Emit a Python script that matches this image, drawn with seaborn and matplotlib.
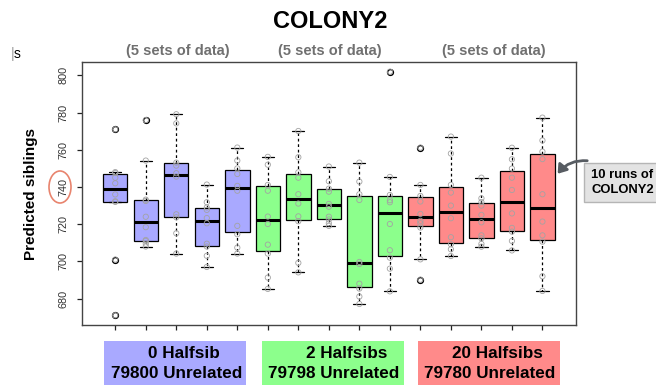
import numpy as np
import pandas as pd
import matplotlib
matplotlib.use("Agg")
import matplotlib.pyplot as plt
import seaborn as sns
from matplotlib.patches import Rectangle, Ellipse, FancyArrowPatch

# ---------------- data ----------------
halfsib0_sets = [
    [671, 701, 732, 732.3, 736, 742, 745, 747.5, 748, 771],
    [708, 709.5, 711, 711.5, 718.4, 724, 732.5, 733.2, 754.2, 776],
    [704.2, 715.1, 723.7, 725.3, 745.6, 747.4, 751.5, 753.1, 774.2, 779.1],
    [697, 703, 708, 709.5, 720.5, 723.3, 727.7, 729, 731.8, 741.3],
    [704.2, 707.4, 714.6, 719.1, 738, 740.6, 747, 750, 754.2, 761.2],
]
halfsib2_sets = [
    [685.2, 691.3, 704.2, 709, 720.1, 724.1, 738, 741.1, 752, 756.2],
    [694.1, 699.2, 721.6, 724.2, 731.1, 736.1, 745, 747.9, 756, 770.1],
    [719.1, 720.5, 722.5, 724, 729.4, 730.9, 737.5, 739.1, 743.1, 751],
    [677.1, 681.1, 685.4, 688, 698.6, 699.7, 733, 736.1, 742.9, 753.1],
    [683.9, 696.1, 702, 706, 720.1, 731.8, 732.9, 735.7, 745.4, 802],
]
halfsib20_sets = [
    [690.2, 701.1, 718.2, 720.5, 721.8, 725.5, 732.2, 735.2, 741.1, 761.2],
    [702.9, 706.5, 709.2, 713, 723.2, 730, 737, 741.1, 758, 767.1],
    [707.9, 709.4, 712.4, 714, 721, 725, 730, 731.9, 733.9, 745],
    [705.9, 711, 716, 718, 725.8, 738.4, 745, 749.9, 754.9, 761.1],
    [684.1, 692, 710.6, 714, 721.4, 736.1, 755, 759, 765, 777.3],
]
group_names = ["0 Halfsib", "2 Halfsibs", "20 Halfsibs"]
unrelated_names = ["79800 Unrelated", "79798 Unrelated", "79780 Unrelated"]
group_colors = ["#a9a9ff", "#8cff8c", "#ff8a8a"]
subtitle = "(5 sets of data)"
y_ticks = [680, 700, 720, 740, 760, 780, 800]
title = "COLONY2"
y_label = "Predicted siblings"
note_lines = ["10 runs of", "COLONY2"]

# ---------------- build table ----------------
rows = []
set_order = []
k = 0
for g, sets in zip(group_names, [halfsib0_sets, halfsib2_sets, halfsib20_sets]):
    for vals in sets:
        k += 1
        name = f"S{k}"
        set_order.append(name)
        for v in vals:
            rows.append({"set": name, "group": g, "value": v})
df = pd.DataFrame(rows)
palette = dict(zip(group_names, group_colors))

# ---------------- figure ----------------
sns.set_style("white")
plt.rcParams["font.family"] = ["Liberation Sans", "DejaVu Sans"]
plt.rcParams["text.color"] = "black"
plt.rcParams["axes.labelcolor"] = "black"

W, H = 656, 385
fig = plt.figure(figsize=(W / 100, H / 100), dpi=100)
ax_l, ax_r, ax_t, ax_b = 82, 576, 62, 325
ax = fig.add_axes([ax_l / W, 1 - ax_b / H, (ax_r - ax_l) / W, (ax_b - ax_t) / H])

sns.boxplot(
    data=df, x="set", y="value", hue="group", order=set_order,
    hue_order=group_names, palette=palette, dodge=False, width=0.8,
    saturation=1, linecolor="black", linewidth=0.9, whis=1.5,
    fliersize=4.2, legend=False, ax=ax,
    flierprops=dict(marker="o", markerfacecolor="none",
                    markeredgecolor="black", markeredgewidth=1.0),
    whiskerprops=dict(linestyle=(0, (2.2, 2.2))),
    medianprops=dict(linewidth=2.2, color="black"),
)
sns.stripplot(
    data=df, x="set", y="value", order=set_order, jitter=False, size=3.8,
    facecolors="none", edgecolor="#a3a3a3", linewidth=0.6, ax=ax, zorder=3,
)

ax.set_xlim(-1.09, 15.1)
ax.set_ylim(665.8, 807.2)
ax.set_yticks(y_ticks)
ax.set_yticklabels([str(t) for t in y_ticks], rotation=90, va="center",
                   fontsize=7.8, color="#333333")
ax.set_xticks(range(len(set_order)))
ax.set_xticklabels([""] * len(set_order))
ax.tick_params(axis="both", direction="out", length=3.6, width=0.9,
               color="#222222", left=True, bottom=True)
ax.tick_params(axis="y", pad=6)
ax.set_xlabel("")
ax.set_ylabel(y_label, fontsize=11, fontweight="bold", va="center", color="black")
ax.yaxis.set_label_coords((31 - ax_l) / (ax_r - ax_l), 0.5)
for sp in ax.spines.values():
    sp.set_visible(True)
    sp.set_color("#444444")
    sp.set_linewidth(1.0)

# ---------------- texts & decorations ----------------
def fx(px):
    return px / W

def fy(py):
    return 1 - py / H

fig.text(fx(330), fy(22), title, ha="center", va="center",
         fontsize=17, fontweight="bold", color="black")
for cx in [177.7, 330, 493.5]:
    fig.text(fx(cx), fy(50.5), subtitle, ha="center", va="center",
             fontsize=10.5, fontweight="bold", color="#707070")

fig.text(fx(11), fy(54), "|", ha="left", va="center", fontsize=10, color="#9a9a9a")
fig.text(fx(14), fy(54), "s", ha="left", va="center", fontsize=10, color="black")

fig.patches.append(Ellipse((fx(60), fy(187)), 22 / W, 32 / H, fill=False,
                           edgecolor="#e8846e", linewidth=1.2,
                           transform=fig.transFigure, figure=fig))

boxes_px = [(104, 245.7), (262, 404), (418, 560)]
line1_cx = [184, 346.7, 497.5]
line2_cx = [176.4, 333.5, 489.5]
for (x0, x1), col, l1, l2, c1, c2 in zip(boxes_px, group_colors, group_names,
                                          unrelated_names, line1_cx, line2_cx):
    fig.patches.append(Rectangle((fx(x0), 0), (x1 - x0) / W, 44 / H,
                                 facecolor=col, edgecolor="none",
                                 transform=fig.transFigure, figure=fig))
    fig.text(fx(c1), fy(354), l1, ha="center", va="center",
             fontsize=12.3, fontweight="bold", color="black")
    fig.text(fx(c2), fy(373.3), l2, ha="center", va="center",
             fontsize=12.3, fontweight="bold", color="black")

fig.patches.append(Rectangle((fx(584), fy(202)), 80 / W, 39 / H,
                             facecolor="#e3e3e3", edgecolor="#b5b5b5",
                             linewidth=1.0, transform=fig.transFigure, figure=fig))
fig.text(fx(591), fy(175), note_lines[0], ha="left", va="center",
         fontsize=9.4, fontweight="bold", color="black")
fig.text(fx(591), fy(190), note_lines[1], ha="left", va="center",
         fontsize=9.4, fontweight="bold", color="black")

arrow = FancyArrowPatch((fx(590), fy(161)), (fx(556), fy(176)),
                        connectionstyle="arc3,rad=0.3",
                        arrowstyle="-|>,head_length=5,head_width=3.5",
                        color="#575c62", linewidth=2.0,
                        transform=fig.transFigure, figure=fig)
fig.patches.append(arrow)

fig.savefig("out.png", dpi=100)
